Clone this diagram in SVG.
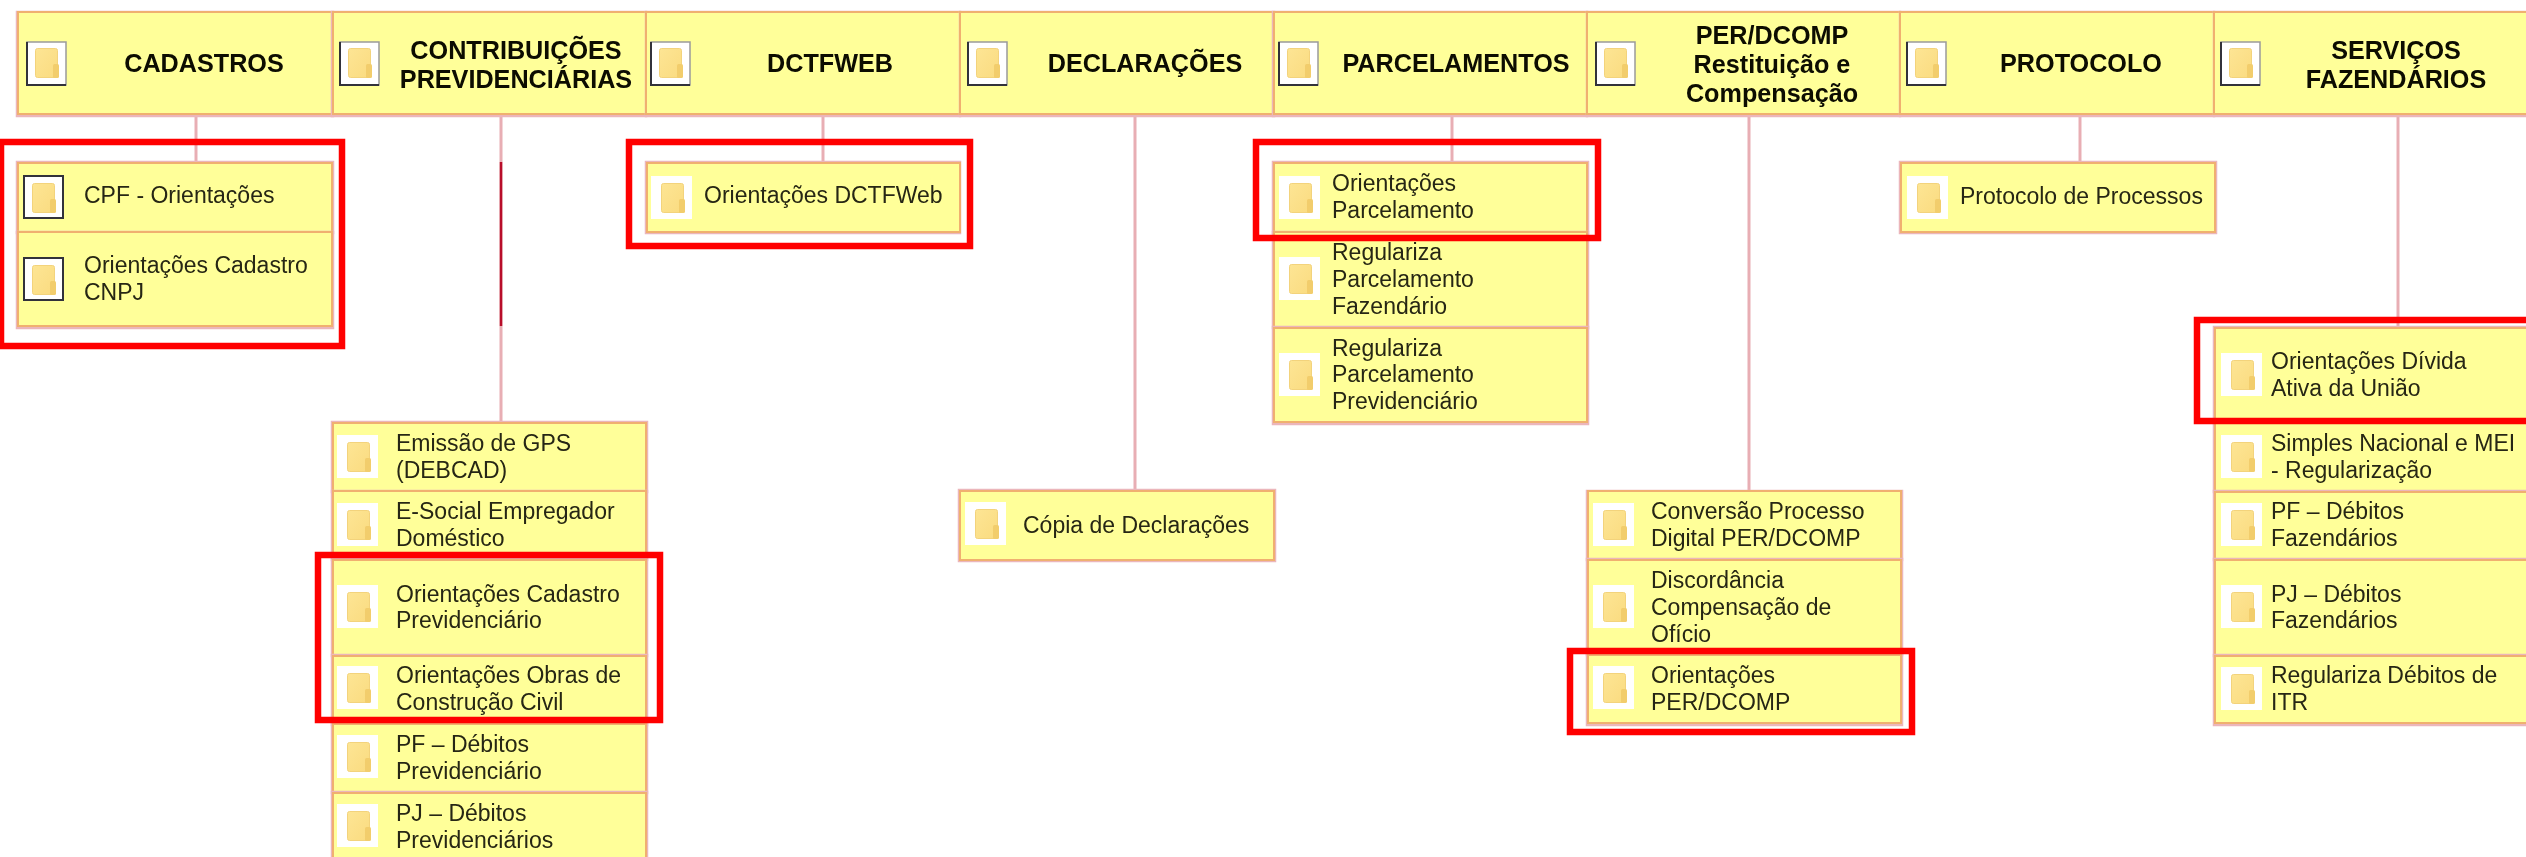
<svg xmlns="http://www.w3.org/2000/svg" xmlns:xlink="http://www.w3.org/1999/xlink" width="2526" height="857" viewBox="0 0 2526 857">
<style>
text{font-family:"Liberation Sans",Arial,sans-serif}
.h{font-size:25.2px;font-weight:700;fill:#0a0a04;text-anchor:middle}
.t{font-size:23px;fill:#262612}
.sh{fill:none;stroke:#ebb6bb;stroke-width:2.5}
.b{fill:#ffff99;stroke:#f0b070;stroke-width:2}
.i{fill:#fff}
.ib{fill:#fff;stroke:#33333a;stroke-width:2}
.c{stroke:#e8aeb4;stroke-width:3;fill:none}
.r{fill:none;stroke:#ff0000;stroke-width:6.5}
</style>
<defs>
<filter id="soft" x="0" y="0" width="100%" height="100%" filterUnits="userSpaceOnUse"><feGaussianBlur stdDeviation="0.55"/></filter>
<linearGradient id="fg" x1="0" y1="0" x2="1" y2="1"><stop offset="0" stop-color="#fde594"/><stop offset="1" stop-color="#fadb80"/></linearGradient>
<g id="folder">
<rect x="0.5" y="0.5" width="22" height="29" rx="2" fill="url(#fg)" stroke="#f3d37c"/>
<rect x="18" y="16" width="6" height="14" rx="1.5" fill="#f2cd6c"/>
</g>
<g id="hicon">
<rect x="0" y="0" width="39" height="43" fill="#fff" stroke="#9a9a9a" stroke-width="1.5"/>
<path d="M0 0V43H39" fill="none" stroke="#33333a" stroke-width="2"/>
<use href="#folder" x="8" y="6"/>
</g>
<g id="cicon"><rect class="i" x="0" y="0" width="41" height="43"/><use href="#folder" x="10" y="7"/></g>
<g id="bicon"><rect class="ib" x="0" y="0" width="39" height="42"/><use href="#folder" x="8" y="7"/></g>
</defs>
<g filter="url(#soft)">
<rect width="2526" height="857" fill="#fff"/>
<g id="connectors">
<path class="c" d="M196 115V162"/>
<path class="c" d="M501 115V422"/>
<path d="M501 162V326" stroke="#b8102a" stroke-width="2.5" fill="none"/>
<path class="c" d="M823 115V162"/>
<path class="c" d="M1135 115V491"/>
<path class="c" d="M1452 115V162"/>
<path class="c" d="M1749 115V491"/>
<path class="c" d="M2080 115V162"/>
<path class="c" d="M2398 115V328"/>
</g>

<g id="h-cadastros"><rect class="sh" x="17" y="12" width="316" height="104"/><rect class="b" x="18" y="12" width="315" height="102"/><use href="#hicon" x="27" y="42"/><text class="h" x="204" y="72">CADASTROS</text></g>
<g id="h-contribuicoes"><rect class="sh" x="332" y="12" width="314" height="104"/><rect class="b" x="333" y="12" width="313" height="102"/><use href="#hicon" x="340" y="42"/><text class="h"><tspan x="516" y="59">CONTRIBUIÇÕES</tspan><tspan x="516" y="88">PREVIDENCIÁRIAS</tspan></text></g>
<g id="h-dctfweb"><rect class="sh" x="646" y="12" width="314" height="104"/><rect class="b" x="646" y="12" width="314" height="102"/><use href="#hicon" x="651" y="42"/><text class="h" x="830" y="72">DCTFWEB</text></g>
<g id="h-declaracoes"><rect class="sh" x="960" y="12" width="314" height="104"/><rect class="b" x="960" y="12" width="314" height="102"/><use href="#hicon" x="968" y="42"/><text class="h" x="1145" y="72">DECLARAÇÕES</text></g>
<g id="h-parcelamentos"><rect class="sh" x="1273" y="12" width="314" height="104"/><rect class="b" x="1274" y="12" width="313" height="102"/><use href="#hicon" x="1279" y="42"/><text class="h" x="1456" y="72">PARCELAMENTOS</text></g>
<g id="h-perdcomp"><rect class="sh" x="1587" y="12" width="313" height="104"/><rect class="b" x="1587" y="12" width="313" height="102"/><use href="#hicon" x="1596" y="42"/><text class="h"><tspan x="1772" y="44">PER/DCOMP</tspan><tspan x="1772" y="73">Restituição e</tspan><tspan x="1772" y="102">Compensação</tspan></text></g>
<g id="h-protocolo"><rect class="sh" x="1900" y="12" width="314" height="104"/><rect class="b" x="1900" y="12" width="314" height="102"/><use href="#hicon" x="1907" y="42"/><text class="h" x="2081" y="72">PROTOCOLO</text></g>
<g id="h-servicos"><rect class="sh" x="2214" y="12" width="320" height="104"/><rect class="b" x="2214" y="12" width="320" height="102"/><use href="#hicon" x="2221" y="42"/><text class="h"><tspan x="2396" y="59">SERVIÇOS</tspan><tspan x="2396" y="88">FAZENDÁRIOS</tspan></text></g>

<g id="n-cpf"><rect class="sh" x="17" y="162" width="316" height="71"/><rect class="b" x="18" y="163" width="314" height="69"/><use href="#bicon" x="24" y="176"/><text class="t" x="84" y="203">CPF - Orientações</text></g>
<g id="n-cnpj"><rect class="sh" x="17" y="232" width="316" height="96"/><rect class="b" x="18" y="232" width="314" height="94"/><use href="#bicon" x="24" y="258"/><text class="t"><tspan x="84" y="273">Orientações Cadastro</tspan><tspan x="84" y="300">CNPJ</tspan></text></g>

<g id="n-gps"><rect class="sh" x="332" y="422" width="315" height="70"/><rect class="b" x="333" y="423" width="313" height="68"/><use href="#cicon" x="337" y="435"/><text class="t"><tspan x="396" y="451">Emissão de GPS</tspan><tspan x="396" y="478">(DEBCAD)</tspan></text></g>
<g id="n-esocial"><rect class="sh" x="332" y="491" width="315" height="69"/><rect class="b" x="333" y="491" width="313" height="68"/><use href="#cicon" x="337" y="503"/><text class="t"><tspan x="396" y="519">E-Social Empregador</tspan><tspan x="396" y="546">Doméstico</tspan></text></g>
<g id="n-cadprev"><rect class="sh" x="332" y="559" width="315" height="97"/><rect class="b" x="333" y="560" width="313" height="95"/><use href="#cicon" x="337" y="585"/><text class="t"><tspan x="396" y="602">Orientações Cadastro</tspan><tspan x="396" y="628">Previdenciário</tspan></text></g>
<g id="n-obras"><rect class="sh" x="332" y="655" width="315" height="70"/><rect class="b" x="333" y="656" width="313" height="68"/><use href="#cicon" x="337" y="666"/><text class="t"><tspan x="396" y="683">Orientações Obras de</tspan><tspan x="396" y="710">Construção Civil</tspan></text></g>
<g id="n-pfprev"><rect class="sh" x="332" y="724" width="315" height="69"/><rect class="b" x="333" y="724" width="313" height="68"/><use href="#cicon" x="337" y="735"/><text class="t"><tspan x="396" y="752">PF – Débitos</tspan><tspan x="396" y="779">Previdenciário</tspan></text></g>
<g id="n-pjprev"><rect class="sh" x="332" y="792" width="315" height="75"/><rect class="b" x="333" y="793" width="313" height="75"/><use href="#cicon" x="337" y="804"/><text class="t"><tspan x="396" y="821">PJ – Débitos</tspan><tspan x="396" y="848">Previdenciários</tspan></text></g>

<g id="n-dctf"><rect class="sh" x="646" y="162" width="314" height="71"/><rect class="b" x="647" y="163" width="313" height="69"/><use href="#cicon" x="651" y="176"/><text class="t" x="704" y="203">Orientações DCTFWeb</text></g>
<g id="n-copia"><rect class="sh" x="959" y="490" width="316" height="71"/><rect class="b" x="960" y="491" width="314" height="69"/><use href="#cicon" x="965" y="502"/><text class="t" x="1023" y="533">Cópia de Declarações</text></g>

<g id="n-oparc"><rect class="sh" x="1273" y="162" width="315" height="71"/><rect class="b" x="1274" y="163" width="313" height="69"/><use href="#cicon" x="1279" y="176"/><text class="t"><tspan x="1332" y="191">Orientações</tspan><tspan x="1332" y="218">Parcelamento</tspan></text></g>
<g id="n-rfaz"><rect class="sh" x="1273" y="232" width="315" height="96"/><rect class="b" x="1274" y="232" width="313" height="95"/><use href="#cicon" x="1279" y="257"/><text class="t"><tspan x="1332" y="260">Regulariza</tspan><tspan x="1332" y="287">Parcelamento</tspan><tspan x="1332" y="314">Fazendário</tspan></text></g>
<g id="n-rprev"><rect class="sh" x="1273" y="327" width="315" height="97"/><rect class="b" x="1274" y="328" width="313" height="94"/><use href="#cicon" x="1279" y="353"/><text class="t"><tspan x="1332" y="356">Regulariza</tspan><tspan x="1332" y="382">Parcelamento</tspan><tspan x="1332" y="409">Previdenciário</tspan></text></g>

<g id="n-conv"><rect class="sh" x="1587" y="491" width="315" height="69"/><rect class="b" x="1588" y="491" width="313" height="68"/><use href="#cicon" x="1593" y="503"/><text class="t"><tspan x="1651" y="519">Conversão Processo</tspan><tspan x="1651" y="546">Digital PER/DCOMP</tspan></text></g>
<g id="n-disc"><rect class="sh" x="1587" y="559" width="315" height="96"/><rect class="b" x="1588" y="560" width="313" height="94"/><use href="#cicon" x="1593" y="585"/><text class="t"><tspan x="1651" y="588">Discordância</tspan><tspan x="1651" y="615">Compensação de</tspan><tspan x="1651" y="642">Ofício</tspan></text></g>
<g id="n-oper"><rect class="sh" x="1587" y="654" width="315" height="71"/><rect class="b" x="1588" y="655" width="313" height="68"/><use href="#cicon" x="1593" y="666"/><text class="t"><tspan x="1651" y="683">Orientações</tspan><tspan x="1651" y="710">PER/DCOMP</tspan></text></g>

<g id="n-proc"><rect class="sh" x="1900" y="162" width="316" height="71"/><rect class="b" x="1901" y="163" width="314" height="69"/><use href="#cicon" x="1907" y="176"/><text class="t" x="1960" y="204">Protocolo de Processos</text></g>

<g id="n-divida"><rect class="sh" x="2214" y="327" width="320" height="96"/><rect class="b" x="2215" y="328" width="320" height="94"/><use href="#cicon" x="2221" y="353"/><text class="t"><tspan x="2271" y="369">Orientações Dívida</tspan><tspan x="2271" y="396">Ativa da União</tspan></text></g>
<g id="n-simples"><rect class="sh" x="2214" y="422" width="320" height="70"/><rect class="b" x="2215" y="423" width="320" height="68"/><use href="#cicon" x="2221" y="435"/><text class="t"><tspan x="2271" y="451">Simples Nacional e MEI</tspan><tspan x="2271" y="478">- Regularização</tspan></text></g>
<g id="n-pffaz"><rect class="sh" x="2214" y="491" width="320" height="69"/><rect class="b" x="2215" y="492" width="320" height="67"/><use href="#cicon" x="2221" y="503"/><text class="t"><tspan x="2271" y="519">PF – Débitos</tspan><tspan x="2271" y="546">Fazendários</tspan></text></g>
<g id="n-pjfaz"><rect class="sh" x="2214" y="559" width="320" height="97"/><rect class="b" x="2215" y="560" width="320" height="95"/><use href="#cicon" x="2221" y="585"/><text class="t"><tspan x="2271" y="602">PJ – Débitos</tspan><tspan x="2271" y="628">Fazendários</tspan></text></g>
<g id="n-itr"><rect class="sh" x="2214" y="655" width="320" height="70"/><rect class="b" x="2215" y="656" width="320" height="67"/><use href="#cicon" x="2221" y="667"/><text class="t"><tspan x="2271" y="683">Regulariza Débitos de</tspan><tspan x="2271" y="710">ITR</tspan></text></g>

<g id="highlights">
<rect class="r" x="1" y="142" width="341" height="204"/>
<rect class="r" x="318" y="555" width="342" height="165"/>
<rect class="r" x="629" y="142" width="341" height="104"/>
<rect class="r" x="1256" y="142" width="342" height="96"/>
<rect class="r" x="1570" y="651" width="342" height="81"/>
<rect class="r" x="2197" y="320" width="345" height="101"/>
</g>
</g>
</svg>
